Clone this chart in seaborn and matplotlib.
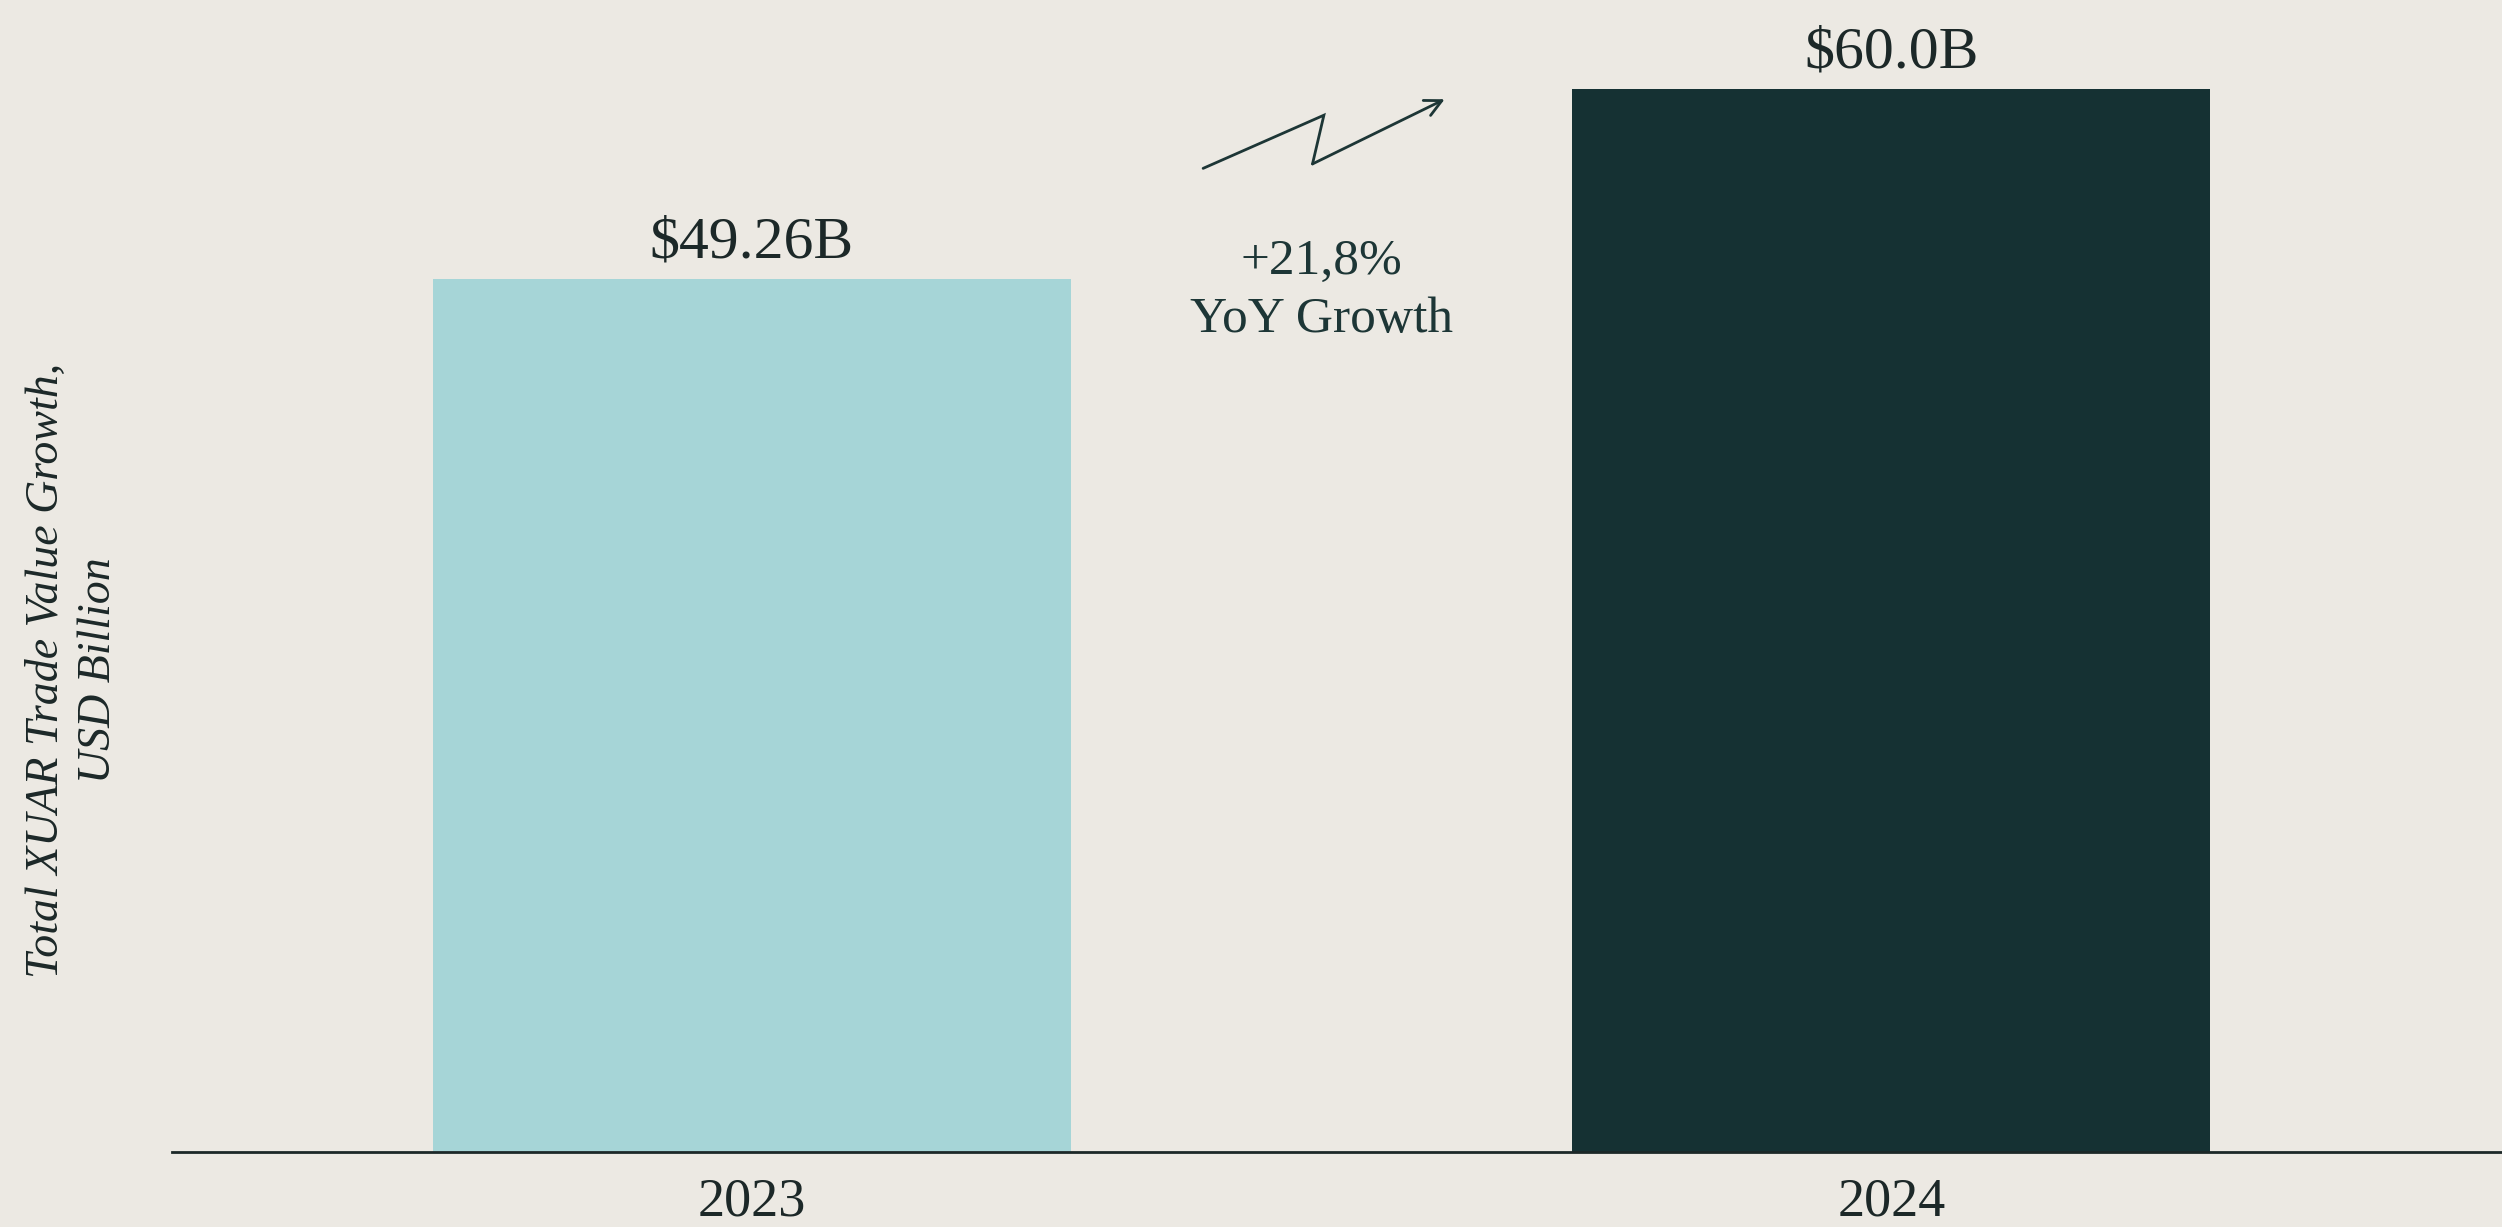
import matplotlib
matplotlib.use("Agg")
import matplotlib.pyplot as plt
import seaborn as sns
import pandas as pd

# Trade values by year (USD billion)
years = ["2023", "2024"]
trade_values = [49.26, 60.0]
bar_colors = ["#a6d5d7", "#153133"]

growth_pct = (trade_values[1] - trade_values[0]) / trade_values[0] * 100

BG = "#ece9e3"
INK = "#1c2828"
TEAL_INK = "#1d3636"
SERIF = ["Liberation Serif", "DejaVu Serif"]

sns.set_theme(style="white")
plt.rcParams["font.family"] = SERIF

df = pd.DataFrame({"year": years, "value": trade_values})

fig = plt.figure(figsize=(25.02, 12.27), dpi=100)
fig.patch.set_facecolor(BG)
ax = fig.add_axes([172 / 2502, 75 / 1227, 1 - 172 / 2502, 1152 / 1227])
ax.set_facecolor(BG)

sns.barplot(data=df, x="year", y="value", hue="year", palette=bar_colors,
            width=0.56, legend=False, saturation=1, linewidth=0,
            edgecolor="none", ax=ax)

ax.set_xlim(-0.509, 1.536)
ax.set_ylim(0, 65)

# value labels above the bars
for cont, v in zip(ax.containers, trade_values):
    ax.bar_label(cont, labels=[f"${v}B"], padding=6, fontsize=43, color=INK)

# axes styling
for side in ["top", "right", "left"]:
    ax.spines[side].set_visible(False)
ax.spines["bottom"].set_color(INK)
ax.spines["bottom"].set_linewidth(2.0)
ax.set_yticks([])
ax.set_xlabel("")
ax.set_ylabel("")
ax.tick_params(axis="x", length=0, pad=18, labelsize=39, labelcolor=INK)

fig.text(73 / 2502, 1 - 670 / 1227,
         "Total XUAR Trade Value Growth,\nUSD Billion",
         rotation=90, ha="center", va="center", fontsize=33,
         style="italic", color=INK, linespacing=1.3)

# growth callout between the bars
ax.text(0.5, 48.6, f"+{growth_pct:.1f}%".replace(".", ",") + "\nYoY Growth",
        ha="center", va="center", fontsize=37, color=TEAL_INK, linespacing=1.35)

# zigzag trend arrow
zx = [0.396, 0.502, 0.492]
zy = [55.5, 58.5, 55.75]
ax.plot(zx, zy, color=TEAL_INK, lw=2.0, solid_joinstyle="miter")
ax.annotate("", xy=(0.608, 59.4), xytext=(0.492, 55.75),
            arrowprops=dict(arrowstyle="->", color=TEAL_INK, lw=2.0,
                            mutation_scale=30, shrinkA=0, shrinkB=0))

fig.savefig("out.png", dpi=100, facecolor=BG)
